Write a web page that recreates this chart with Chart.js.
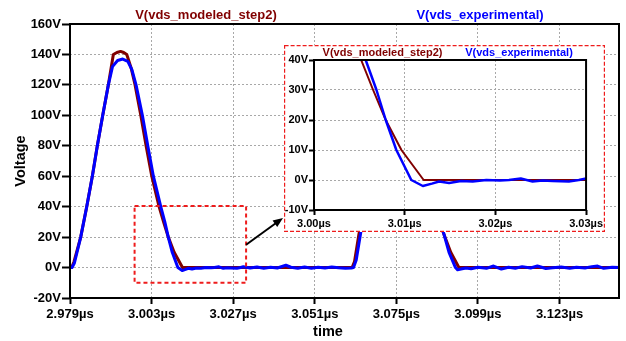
<!DOCTYPE html>
<html>
<head>
<meta charset="utf-8">
<script src="https://cdn.jsdelivr.net/npm/chart.js@4.4.0/dist/chart.umd.min.js"></script>
<style>
body { margin: 0; background: #fff; }
#wrap { position: relative; width: 626px; height: 341px; }
#main { position: absolute; left: 0; top: 0; }
#inset { position: absolute; left: 284px; top: 45px; background: #fff; }
</style>
</head>
<body>
<div id="wrap">
<canvas id="main" width="626" height="341"></canvas>
<canvas id="inset" width="321" height="187"></canvas>
</div>
<script>
// trace names
const modeledName = 'V(vds_modeled_step2)';
const expName = 'V(vds_experimental)';

// modeled trace (time in µs, volts)
const modeledT = [2.979, 2.9795, 2.9802, 2.98215, 2.98392, 2.98557, 2.98704, 2.98863, 2.99028, 2.99175,
  2.9928, 2.99387, 2.9948, 2.9957, 2.997, 2.99814, 2.99982, 3.00138, 3.00306, 3.0052,
  3.00652, 3.00791, 3.00964, 3.01209, 3.062, 3.0627, 3.064, 3.0658, 3.0674, 3.0689,
  3.0705, 3.0721, 3.0736, 3.0757, 3.0775, 3.0799, 3.0816, 3.0831, 3.0848, 3.0866,
  3.088, 3.0893, 3.091, 3.0934, 3.1405];
const modeledV = [0, 0, 4, 20, 40, 60, 80, 100, 120, 140,
  141.3, 142, 141.3, 140, 131, 120, 100, 80, 60, 40,
  30, 20, 10, 0, 0, 4, 22, 42, 62, 82,
  102, 122, 140, 142, 140, 120, 100, 80, 60, 40,
  28, 20, 10, 0, 0];

// experimental trace
const expT = [2.979, 2.9796, 2.9803, 2.98215, 2.98392, 2.98557, 2.98704, 2.98863, 2.99028, 2.9915,
  2.993, 2.99452, 2.996, 2.9972, 2.99843, 3.00029, 3.00188, 3.00353, 3.0057, 3.00689,
  3.00791, 3.00908, 3.01073, 3.012, 3.013, 3.0138, 3.0149, 3.0162, 3.0175, 3.019,
  3.0205, 3.0215, 3.0228, 3.0241, 3.0252, 3.0263, 3.0281, 3.0292, 3.03, 3.032,
  3.034, 3.036, 3.038, 3.04, 3.0425, 3.044, 3.046, 3.048, 3.05, 3.052,
  3.054, 3.056, 3.058, 3.06, 3.0618, 3.0624, 3.0632, 3.0646, 3.0662, 3.0677,
  3.0692, 3.0708, 3.0724, 3.074, 3.0762, 3.078, 3.0803, 3.082, 3.0836, 3.0852,
  3.0869, 3.0879, 3.089, 3.0905, 3.0924, 3.093, 3.094, 3.0955, 3.097, 3.099,
  3.1015, 3.1036, 3.1059, 3.108, 3.11, 3.112, 3.1145, 3.1165, 3.119, 3.121,
  3.1235, 3.126, 3.128, 3.1305, 3.1325, 3.1342, 3.136, 3.1385, 3.1405];
const expV = [0, 0, 3, 20, 40, 60, 80, 100, 120, 132,
  136, 137, 135.5, 130, 120, 100, 80, 60, 40, 30,
  20, 10, 0, -2, -1.2, -0.5, -1, -0.3, -0.5, 0,
  -0.2, 0, 0.5, -0.5, -0.2, -0.3, -0.5, 0, 0.5, -0.3,
  0.4, -0.4, 0.2, -0.3, 1.5, 0.2, -0.5, 0.3, -0.4, 0.2,
  -0.3, 0.4, -0.2, -0.5, -0.3, 0, 5, 24, 44, 64,
  84, 104, 124, 135, 137, 134, 120, 100, 80, 60,
  40, 30, 22, 10, 0, -1.5, -1, -0.3, -0.8, 0.2,
  -0.5, 1, -1, 0.2, -0.4, 0.6, -0.3, 1, -0.6, -0.2,
  0.3, -0.5, 0.2, -0.3, 0.6, 1, -0.5, 0.2, 0];

// axis ticks
const mainXTicks = [2.979, 3.003, 3.027, 3.051, 3.075, 3.099, 3.123];
const insetXTicks = [3.00, 3.01, 3.02, 3.03];

// zoomed region marked on the main plot: [t0, t1, v0, v1]
const zoomBox = [2.998, 3.0308, -10, 40.5];

const FONT = "'Liberation Sans', Arial, sans-serif";
const RED = '#800000', BLUE = '#0000ff', BOXRED = '#ee1c1c';

Chart.defaults.font.family = FONT;
Chart.defaults.font.weight = 'bold';
Chart.defaults.color = '#000';

function pts(ts, vs) {
  return ts.map((t, i) => ({x: t, y: vs[i]}));
}

function traces(wRed, wBlue) {
  return [
    {label: modeledName, data: pts(modeledT, modeledV), borderColor: RED, borderWidth: wRed, order: 2},
    {label: expName, data: pts(expT, expV), borderColor: BLUE, borderWidth: wBlue, order: 1}
  ];
}

function axes(o) {
  return {
    x: {
      type: 'linear', min: o.xMin, max: o.xMax,
      afterBuildTicks: s => { s.ticks = o.xTicks.map(v => ({value: v})); },
      afterFit: s => { s.height = o.xH; },
      ticks: {
        font: {family: FONT, weight: 'bold', size: o.fs}, color: '#000',
        padding: o.xPad, maxRotation: 0, autoSkip: false,
        callback: v => v.toFixed(o.dec) + 'µs'
      },
      grid: {color: '#a8a8a8', lineWidth: 1, tickColor: '#000', tickWidth: 2, tickLength: o.xTl},
      border: {display: false, dash: [2, 2]}
    },
    y: {
      min: o.yMin, max: o.yMax,
      afterFit: s => { s.width = o.yW; },
      ticks: {
        stepSize: o.yStep, font: {family: FONT, weight: 'bold', size: o.fs}, color: '#000',
        padding: 1, callback: v => v + 'V'
      },
      grid: {color: '#a8a8a8', lineWidth: 1, tickColor: '#000', tickWidth: 2, tickLength: o.yTl},
      border: {display: false, dash: [2, 2]}
    }
  };
}

const mainDeco = {
  id: 'mainDeco',
  afterDraw(chart) {
    const {ctx, chartArea: a, scales: {x, y}} = chart;
    ctx.save();
    ctx.setLineDash([]);
    ctx.strokeStyle = '#000';
    ctx.lineWidth = 2;
    ctx.strokeRect(a.left, a.top, a.right - a.left, a.bottom - a.top);

    ctx.font = 'bold 13px ' + FONT;
    ctx.textAlign = 'center';
    ctx.textBaseline = 'middle';
    ctx.fillStyle = RED;
    ctx.fillText(modeledName, 206, 15);
    ctx.fillStyle = BLUE;
    ctx.fillText(expName, 480, 15);

    ctx.fillStyle = '#000';
    ctx.font = 'bold 14.5px ' + FONT;
    ctx.fillText('time', 328, 332);
    ctx.save();
    ctx.translate(21, (a.top + a.bottom) / 2);
    ctx.rotate(-Math.PI / 2);
    ctx.fillText('Voltage', 0, 0);
    ctx.restore();

    // zoom box
    const bx0 = x.getPixelForValue(zoomBox[0]), bx1 = x.getPixelForValue(zoomBox[1]);
    const by0 = y.getPixelForValue(zoomBox[3]), by1 = y.getPixelForValue(zoomBox[2]);
    ctx.strokeStyle = BOXRED;
    ctx.lineWidth = 2;
    ctx.setLineDash([4, 3]);
    ctx.strokeRect(bx0, by0, bx1 - bx0, by1 - by0);

    // arrow to the inset
    ctx.setLineDash([]);
    const inset = document.getElementById('inset');
    const sx = bx1, sy = y.getPixelForValue(15);
    const ex = inset.offsetLeft - 1, ey = inset.offsetTop + inset.height - 14;
    const ang = Math.atan2(ey - sy, ex - sx);
    ctx.strokeStyle = '#000';
    ctx.fillStyle = '#000';
    ctx.lineWidth = 2;
    ctx.beginPath();
    ctx.moveTo(sx, sy);
    ctx.lineTo(ex - 6 * Math.cos(ang), ey - 6 * Math.sin(ang));
    ctx.stroke();
    ctx.beginPath();
    ctx.moveTo(ex, ey);
    ctx.lineTo(ex - 10 * Math.cos(ang) + 4 * Math.sin(ang), ey - 10 * Math.sin(ang) - 4 * Math.cos(ang));
    ctx.lineTo(ex - 10 * Math.cos(ang) - 4 * Math.sin(ang), ey - 10 * Math.sin(ang) + 4 * Math.cos(ang));
    ctx.closePath();
    ctx.fill();
    ctx.restore();
  }
};

const insetDeco = {
  id: 'insetDeco',
  afterDraw(chart) {
    const {ctx, chartArea: a, width, height} = chart;
    ctx.save();
    ctx.setLineDash([]);
    ctx.strokeStyle = '#000';
    ctx.lineWidth = 2;
    ctx.strokeRect(a.left, a.top, a.right - a.left, a.bottom - a.top);

    ctx.font = 'bold 11px ' + FONT;
    ctx.textAlign = 'center';
    ctx.textBaseline = 'middle';
    ctx.fillStyle = RED;
    ctx.fillText(modeledName, 98.5, 8);
    ctx.fillStyle = BLUE;
    ctx.fillText(expName, 235, 8);

    ctx.strokeStyle = BOXRED;
    ctx.lineWidth = 1.2;
    ctx.setLineDash([4, 2]);
    ctx.strokeRect(0.6, 0.6, width - 1.2, height - 1.2);
    ctx.restore();
  }
};

const common = {
  type: 'line',
  options: {
    responsive: false,
    animation: false,
    events: [],
    elements: {point: {radius: 0}, line: {tension: 0, borderJoinStyle: 'round', borderCapStyle: 'round'}},
    plugins: {legend: {display: false}, tooltip: {enabled: false}}
  }
};

new Chart(document.getElementById('main'), {
  type: common.type,
  data: {datasets: traces(3, 3)},
  plugins: [mainDeco],
  options: Object.assign({}, common.options, {
    layout: {padding: {top: 24, right: 7, left: 0, bottom: 0}},
    scales: axes({
      xMin: 2.979, xMax: 3.1405, xTicks: mainXTicks, xH: 43, xTl: 6, xPad: 3, dec: 3,
      yMin: -20, yMax: 160, yStep: 20, yW: 70, yTl: 8, fs: 13
    })
  })
});

new Chart(document.getElementById('inset'), {
  type: common.type,
  data: {datasets: traces(2, 2.5)},
  plugins: [insetDeco],
  options: Object.assign({}, common.options, {
    layout: {padding: {top: 15, right: 18, left: 0, bottom: 0}},
    scales: axes({
      xMin: 3.00, xMax: 3.03, xTicks: insetXTicks, xH: 22, xTl: 5, xPad: 2, dec: 2,
      yMin: -10, yMax: 40, yStep: 10, yW: 30, yTl: 5, fs: 11
    })
  })
});
</script>
</body>
</html>
